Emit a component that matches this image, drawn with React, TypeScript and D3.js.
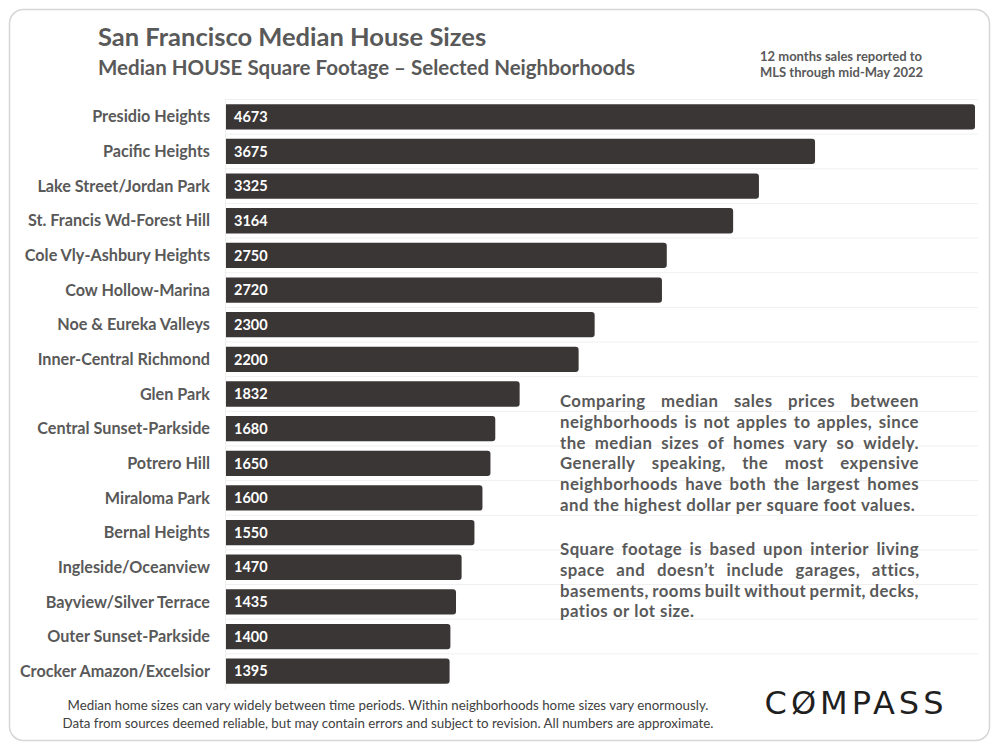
import React from "react";
import * as d3 from "d3";

const neighborhoods = [
  "Presidio Heights",
  "Pacific Heights",
  "Lake Street/Jordan Park",
  "St. Francis Wd-Forest Hill",
  "Cole Vly-Ashbury Heights",
  "Cow Hollow-Marina",
  "Noe & Eureka Valleys",
  "Inner-Central Richmond",
  "Glen Park",
  "Central Sunset-Parkside",
  "Potrero Hill",
  "Miraloma Park",
  "Bernal Heights",
  "Ingleside/Oceanview",
  "Bayview/Silver Terrace",
  "Outer Sunset-Parkside",
  "Crocker Amazon/Excelsior",
];
const medianSqft = [4673, 3675, 3325, 3164, 2750, 2720, 2300, 2200, 1832, 1680, 1650, 1600, 1550, 1470, 1435, 1400, 1395];

const title = "San Francisco Median House Sizes";
const subtitle = "Median HOUSE Square Footage \u2013 Selected Neighborhoods";
const sourceNote = ["12 months sales reported to", "MLS through mid-May 2022"];
const paragraph1Lines = [
  "Comparing median sales prices between",
  "neighborhoods is not apples to apples, since",
  "the median sizes of homes vary so widely.",
  "Generally speaking, the most expensive",
  "neighborhoods have both the largest homes",
  "and the highest dollar per square foot values.",
];
const paragraph2Lines = [
  "Square footage is based upon interior living",
  "space and doesn\u2019t include garages, attics,",
  "basements, rooms built without permit, decks,",
  "patios or lot size.",
];
const footer = [
  "Median home sizes can vary widely between time periods. Within neighborhoods home sizes vary enormously.",
  "Data from sources deemed reliable, but may contain errors and subject to revision. All numbers are approximate.",
];

const FONT = "Lato, 'Open Sans', sans-serif";
const GREY = "#595959";
const BAR = "#3b3636";

let _ctx: CanvasRenderingContext2D | null = null;
function measure(text: string, font: string, ls: number): number {
  if (!_ctx) _ctx = document.createElement("canvas").getContext("2d");
  _ctx!.font = font;
  return _ctx!.measureText(text).width + ls * text.length;
}

function JustifiedLines({ lines, x, y, width, fontSize, lineHeight, fontWeight, letterSpacing }: any) {
  const font = `${fontWeight} ${fontSize}px Lato`;
  const space = measure(" ", font, letterSpacing);
  const out: any[] = [];
  lines.forEach((line: string, li: number) => {
    const ln = line.split(" ");
    const ly = y + li * lineHeight;
    const last = li === lines.length - 1;
    const widths = ln.map((w) => measure(w, font, letterSpacing));
    const total = d3.sum(widths);
    const gap = last || ln.length === 1 ? space : (width - total) / (ln.length - 1);
    let cx = x;
    ln.forEach((w, wi) => {
      out.push(
        <text key={`${li}-${wi}`} x={cx} y={ly} fontSize={fontSize} fontWeight={fontWeight} letterSpacing={letterSpacing} fill={GREY} fontFamily={FONT}>
          {w}
        </text>
      );
      cx += widths[wi] + gap;
    });
  });
  return <g>{out}</g>;
}

export default function App() {
  const W = 1000;
  const H = 750;
  const x = d3.scaleLinear().domain([0, d3.max(medianSqft)!]).range([226, 975]);
  const y = d3.scaleBand().domain(neighborhoods).range([99.5, 688.5]).paddingInner(0.27).paddingOuter(0.135);
  const bh = y.bandwidth();
  const step = y.step();

  return (
    <div style={{ position: "absolute", left: 0, top: 0 }}>
      <svg width={W} height={H} style={{ display: "block", background: "#fff" }}>
        <rect x={9.5} y={9.5} width={980} height={731} rx={14} fill="#fff" stroke="#d6d6d6" strokeWidth={1.5} />
        <text x={98} y={46} fontSize={25.5} fontWeight={700} fill={GREY} fontFamily={FONT}>{title}</text>
        <text x={98} y={75} fontSize={20.5} fontWeight={700} fill={GREY} fontFamily={FONT}>{subtitle}</text>
        {sourceNote.map((s, i) => (
          <text key={i} x={760} y={61 + i * 16} fontSize={13} fontWeight={700} fill={GREY} fontFamily={FONT}>{s}</text>
        ))}
        {neighborhoods.map((n, i) => (
          <line key={"g" + i} x1={226} x2={978} y1={y(n)! - (step - bh) / 2} y2={y(n)! - (step - bh) / 2} stroke="#f0f0f0" strokeWidth={1} />
        ))}
        <line x1={225.5} x2={225.5} y1={99} y2={690} stroke="#eeeeee" strokeWidth={1} />
        {neighborhoods.map((n, i) => {
          const y0 = y(n)!;
          const x1 = x(medianSqft[i]);
          const r = 3;
          const path = `M226,${y0} H${x1 - r} Q${x1},${y0} ${x1},${y0 + r} V${y0 + bh - r} Q${x1},${y0 + bh} ${x1 - r},${y0 + bh} H226 Z`;
          return (
            <g key={n}>
              <path d={path} fill={BAR} />
              <text x={210} y={y0 + bh / 2} dy="0.35em" textAnchor="end" fontSize={16.2} fontWeight={700} fill={GREY} fontFamily={FONT}>{n}</text>
              <text x={234} y={y0 + bh / 2} dy="0.36em" fontSize={14.5} fontWeight={700} fill="#fff" fontFamily={FONT}>{medianSqft[i]}</text>
            </g>
          );
        })}
        <JustifiedLines lines={paragraph1Lines} x={560} y={407} width={359} fontSize={16.8} lineHeight={20.8} fontWeight={700} letterSpacing={0.45} />
        <JustifiedLines lines={paragraph2Lines} x={560} y={555} width={359} fontSize={16.8} lineHeight={20.8} fontWeight={700} letterSpacing={0.45} />
        {footer.map((f, i) => (
          <text key={i} x={388} y={710 + i * 18} textAnchor="middle" fontSize={13.3} fill="#404040" fontFamily={FONT}>{f}</text>
        ))}
        <text x={856} y={714} textAnchor="middle" fontSize={32} letterSpacing={4} fill="#1f1f1f" fontFamily="'DejaVu Sans', sans-serif">C{"\u00D8"}MPASS</text>
      </svg>
    </div>
  );
}
